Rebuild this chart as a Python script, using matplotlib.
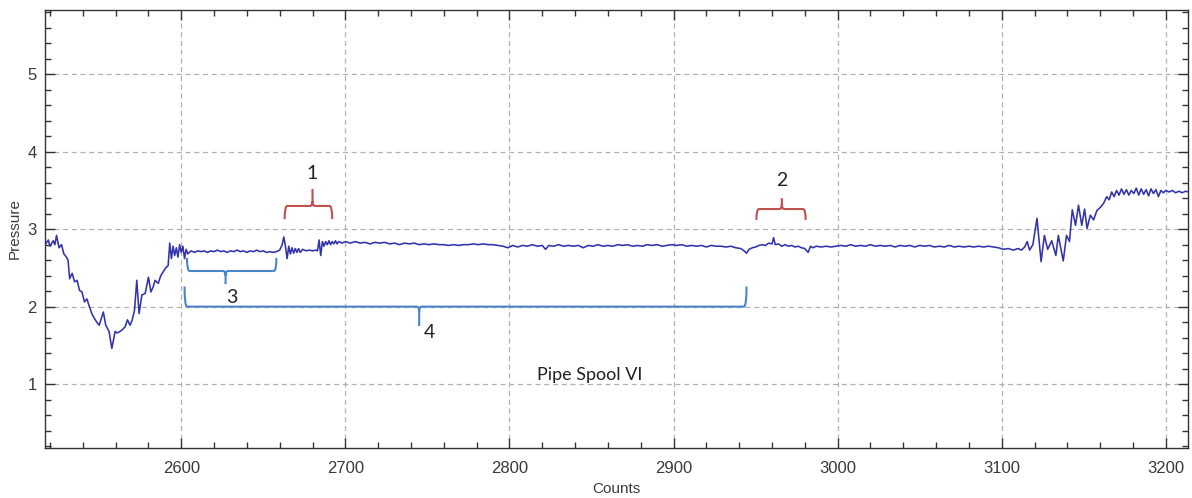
import numpy as np
import matplotlib
matplotlib.use("Agg")
import matplotlib.pyplot as plt
from matplotlib.path import Path
from matplotlib.patches import PathPatch
from matplotlib.ticker import MultipleLocator

# pressure trace, read as (count, pressure) segments
dip_counts = [2517, 2519, 2520, 2522, 2523, 2524, 2525.5, 2527, 2528.5, 2530, 2531, 2532,
              2533.5, 2535, 2536.5, 2538, 2539.5, 2541, 2542.5, 2544, 2545.5, 2547, 2548.5,
              2550, 2552.5, 2554, 2556, 2557.7, 2559.7, 2561, 2562.7, 2564, 2565.8, 2567.2,
              2568.8, 2570, 2571.5, 2572.9, 2574.3, 2576, 2578, 2580, 2581.5, 2583, 2584,
              2586, 2587.5, 2589, 2590.5, 2592, 2593, 2594, 2595, 2596, 2597, 2598, 2599,
              2600, 2601, 2602, 2603, 2604]
dip_pressure = [2.80, 2.86, 2.78, 2.85, 2.80, 2.92, 2.76, 2.80, 2.68, 2.64, 2.60, 2.36,
                2.43, 2.32, 2.34, 2.21, 2.19, 2.06, 2.10, 2.00, 1.91, 1.85, 1.80,
                1.76, 1.93, 1.76, 1.68, 1.46, 1.68, 1.66, 1.68, 1.70, 1.74, 1.83,
                1.76, 1.82, 1.95, 2.34, 1.91, 2.15, 2.17, 2.38, 2.19, 2.26, 2.34,
                2.30, 2.40, 2.45, 2.50, 2.53, 2.82, 2.62, 2.78, 2.66, 2.76, 2.64, 2.80,
                2.70, 2.78, 2.62, 2.74, 2.68]

plateau_counts = [2606, 2608, 2610, 2612, 2614, 2616, 2618, 2620, 2622, 2624, 2626, 2628,
                  2630, 2632, 2634, 2636, 2638, 2640, 2642, 2644, 2646, 2648, 2650, 2652,
                  2654, 2656, 2658, 2660, 2661.5, 2662.5, 2663.5, 2664.5, 2665.5, 2666.5,
                  2667.5, 2668.5, 2669.5, 2670.5, 2671.5, 2672.5, 2674, 2676, 2678, 2680,
                  2682, 2683, 2684, 2685, 2686, 2687, 2688, 2689, 2690, 2691, 2692, 2693,
                  2694, 2695, 2696, 2698, 2700]
plateau_pressure = [2.72, 2.70, 2.72, 2.71, 2.72, 2.70, 2.72, 2.71, 2.73, 2.71, 2.72, 2.70,
                    2.72, 2.71, 2.73, 2.71, 2.72, 2.70, 2.72, 2.71, 2.73, 2.71, 2.72, 2.70,
                    2.71, 2.70, 2.71, 2.73, 2.80, 2.90, 2.78, 2.62, 2.78, 2.68,
                    2.76, 2.69, 2.75, 2.70, 2.75, 2.70, 2.74, 2.72, 2.73, 2.72,
                    2.73, 2.72, 2.86, 2.66, 2.84, 2.78, 2.84, 2.80, 2.85, 2.80, 2.84, 2.81,
                    2.85, 2.81, 2.84, 2.82, 2.84]

flat_counts = [2703, 2706, 2709, 2712, 2715, 2718, 2721, 2724, 2727, 2730, 2733, 2736,
               2739, 2742, 2745, 2748, 2751, 2754, 2757, 2760, 2763, 2766, 2769, 2772,
               2775, 2778, 2781, 2784, 2787, 2790, 2793, 2796, 2799, 2802, 2805, 2808,
               2811, 2814, 2817, 2820, 2822, 2824, 2827, 2830, 2833, 2836, 2839, 2842,
               2845, 2848, 2851, 2854, 2857, 2860, 2863, 2866, 2869, 2872, 2875, 2878,
               2881, 2884, 2887, 2890, 2893, 2896, 2899, 2902, 2905, 2908, 2911, 2914,
               2917, 2920, 2923, 2926, 2929, 2932, 2935, 2938, 2941, 2943, 2944.5, 2946,
               2948, 2950, 2952, 2954, 2956, 2958, 2960, 2961, 2962, 2964, 2966, 2968,
               2970, 2972, 2974, 2976, 2978, 2980, 2982, 2983.5, 2985, 2987, 2990, 2993,
               2996, 2999, 3002, 3005, 3008, 3011, 3014, 3017, 3020, 3023, 3026, 3029,
               3032, 3035, 3038, 3041, 3044, 3047, 3050, 3053, 3056, 3059, 3062, 3065,
               3068, 3071, 3074, 3077, 3080, 3083, 3086, 3089, 3092, 3095, 3098, 3101,
               3104, 3107, 3110, 3112, 3114, 3115.5, 3117]
flat_pressure = [2.82, 2.84, 2.82, 2.83, 2.81, 2.83, 2.82, 2.83, 2.81, 2.82, 2.80, 2.82,
                 2.81, 2.82, 2.80, 2.81, 2.80, 2.81, 2.80, 2.80, 2.79, 2.80, 2.79, 2.80,
                 2.80, 2.81, 2.80, 2.81, 2.80, 2.80, 2.79, 2.78, 2.76, 2.79, 2.77, 2.79,
                 2.78, 2.80, 2.78, 2.79, 2.74, 2.79, 2.78, 2.80, 2.78, 2.79, 2.78, 2.79,
                 2.76, 2.79, 2.78, 2.80, 2.78, 2.79, 2.78, 2.80, 2.79, 2.80, 2.78, 2.79,
                 2.78, 2.80, 2.79, 2.80, 2.78, 2.79, 2.80, 2.79, 2.80, 2.78, 2.79, 2.78,
                 2.79, 2.77, 2.79, 2.78, 2.78, 2.77, 2.78, 2.76, 2.75, 2.72, 2.69, 2.74,
                 2.76, 2.77, 2.79, 2.80, 2.79, 2.82, 2.81, 2.89, 2.80, 2.81, 2.78, 2.80,
                 2.78, 2.79, 2.77, 2.78, 2.76, 2.75, 2.70, 2.78, 2.76, 2.78, 2.77, 2.78,
                 2.77, 2.78, 2.79, 2.78, 2.80, 2.78, 2.79, 2.78, 2.80, 2.78, 2.79, 2.78,
                 2.79, 2.77, 2.79, 2.78, 2.79, 2.77, 2.79, 2.78, 2.79, 2.77, 2.78, 2.77,
                 2.79, 2.77, 2.78, 2.77, 2.78, 2.77, 2.78, 2.77, 2.78, 2.77, 2.76, 2.74,
                 2.75, 2.73, 2.75, 2.73, 2.77, 2.84, 2.73]

rise_counts = [3119, 3121.5, 3124, 3126, 3128, 3130.5, 3133, 3134.5, 3137.5, 3139.5, 3141.3,
               3143, 3145, 3146.8, 3148.8, 3150.5, 3152, 3154, 3156, 3158, 3160, 3162, 3164,
               3165.5, 3167, 3168.5, 3170, 3171.5, 3173, 3174.5, 3176, 3177.5, 3179, 3180.5,
               3182, 3183.5, 3185, 3186.5, 3188, 3189.5, 3191, 3192.5, 3194, 3195.5, 3197,
               3198.5, 3200, 3202, 3204, 3206, 3208, 3210, 3212, 3214]
rise_pressure = [2.80, 3.14, 2.58, 2.92, 2.74, 2.85, 2.66, 2.92, 2.59, 2.92, 2.84,
                 3.25, 3.05, 3.31, 3.05, 3.26, 3.01, 3.18, 3.12, 3.24, 3.28, 3.33, 3.42,
                 3.38, 3.48, 3.42, 3.50, 3.44, 3.52, 3.45, 3.51, 3.44, 3.50, 3.46,
                 3.53, 3.44, 3.52, 3.45, 3.51, 3.43, 3.52, 3.46, 3.51, 3.42, 3.50,
                 3.47, 3.50, 3.48, 3.50, 3.47, 3.49, 3.47, 3.49, 3.48]

counts = np.array(dip_counts + plateau_counts + flat_counts + rise_counts)
pressure = np.array(dip_pressure + plateau_pressure + flat_pressure + rise_pressure)

# brace annotations: label, x start, x end, x of middle point, tip level, bar level, point level
brace_labels = ["1", "2", "3", "4"]
brace_x0 = [2663, 2950.5, 2603.5, 2602]
brace_x1 = [2692, 2980.5, 2658, 2944.5]
brace_mid = [2680, 2966, 2627, 2745]
brace_tip = [3.13, 3.12, 2.63, 2.26]
brace_bar = [3.30, 3.26, 2.46, 2.00]
brace_point = [3.52, 3.40, 2.29, 1.75]
label_xy = [(2680, 3.72), (2966, 3.63), (2631, 2.12), (2751, 1.67)]
brace_colors = ["#c0504d", "#c0504d", "#4a84c8", "#4a84c8"]


def brace_path(x0, x1, xm, tip, bar, point, rx=1.6):
    # rounded corners at the ends and at the middle point
    dy = 0.06 if bar > tip else -0.06
    verts = [(x0, tip), (x0, bar), (x0 + rx, bar),
             (xm - rx, bar), (xm, bar), (xm, bar + dy),
             (xm, point), (xm, bar + dy), (xm, bar), (xm + rx, bar),
             (x1 - rx, bar), (x1, bar), (x1, tip)]
    codes = [Path.MOVETO, Path.CURVE3, Path.CURVE3,
             Path.LINETO, Path.CURVE3, Path.CURVE3,
             Path.LINETO, Path.MOVETO, Path.CURVE3, Path.CURVE3,
             Path.LINETO, Path.CURVE3, Path.CURVE3]
    return Path(verts, codes)


fig = plt.figure(figsize=(11.92, 4.98), dpi=100)
ax = fig.add_axes([0.0378, 0.1004, 0.9588, 0.8796])

ax.plot(counts, pressure, color="#3232ae", lw=1.15, zorder=3)

for i in range(len(brace_labels)):
    p = brace_path(brace_x0[i], brace_x1[i], brace_mid[i], brace_tip[i], brace_bar[i], brace_point[i])
    ax.add_patch(PathPatch(p, fill=False, edgecolor=brace_colors[i], lw=1.5, zorder=4))
    ax.text(label_xy[i][0], label_xy[i][1], brace_labels[i], family="Lato", fontsize=14,
            color="#222222", ha="center", va="center")

ax.text(2849, 1.12, "Pipe Spool VI", family="Lato", fontsize=13, color="#222222",
        ha="center", va="center")

ax.set_xlim(2517, 3213.5)
ax.set_ylim(0.175, 5.83)
ax.xaxis.set_major_locator(MultipleLocator(100))
ax.xaxis.set_minor_locator(MultipleLocator(20))
ax.yaxis.set_major_locator(MultipleLocator(1))
ax.yaxis.set_minor_locator(MultipleLocator(0.2))

ax.grid(True, which="major", color="#b0b0b0", linestyle=(0, (4, 3)), lw=0.9)
ax.tick_params(which="both", direction="in", top=True, right=True, colors="#333333",
               labelsize=12, labelcolor="#3a3a3a")
ax.tick_params(axis="x", which="major", pad=9)
ax.tick_params(axis="y", which="major", pad=6)
ax.tick_params(which="major", length=7, width=1)
ax.tick_params(which="minor", length=4.5, width=1)
for lbl in ax.get_xticklabels() + ax.get_yticklabels():
    lbl.set_family("Liberation Sans")
for s in ax.spines.values():
    s.set_color("#333333")
    s.set_linewidth(1.0)

ax.set_xlabel("Counts", family="Liberation Sans", fontsize=11, color="#3a3a3a", labelpad=5)
ax.set_ylabel("Pressure", family="Liberation Sans", fontsize=11, color="#3a3a3a", labelpad=4)

fig.savefig("out.png", dpi=100)
